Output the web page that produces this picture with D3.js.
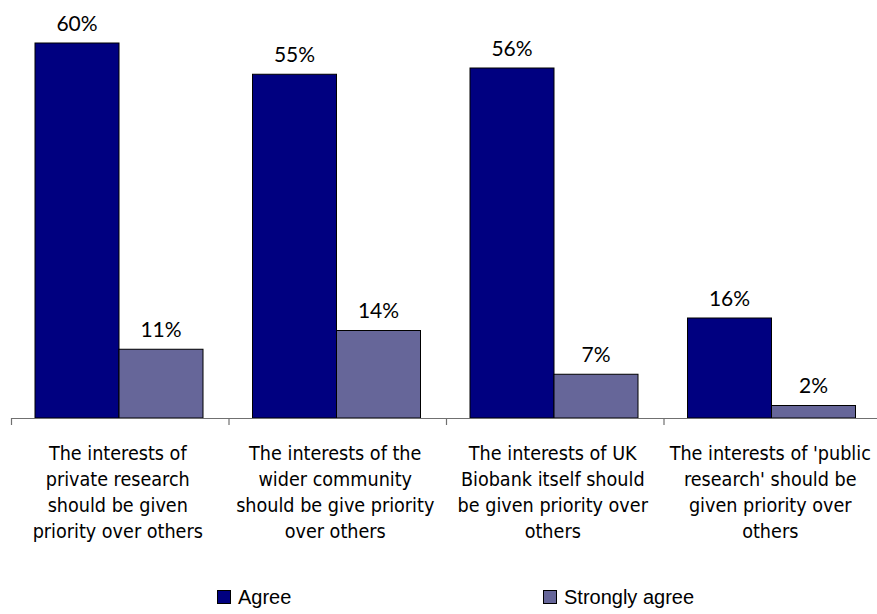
<!DOCTYPE html>
<html>
<head>
<meta charset="utf-8">
<script src="https://cdn.jsdelivr.net/npm/d3@7"></script>
<style>
  html, body { margin: 0; padding: 0; background: #fff; }
  svg { display: block; }
  .cat { font-family: "DejaVu Sans Condensed", "DejaVu Sans", sans-serif; font-stretch: condensed; font-size: 19.6px; fill: #000; }
  .val { font-family: Lato, "Open Sans", sans-serif; font-size: 21px; fill: #000; }
  .leg { font-family: "Liberation Sans", Arial, sans-serif; font-size: 20px; fill: #000; }
</style>
</head>
<body>
<svg id="chart" width="877" height="614"></svg>
<script>
// Category labels (line breaks as drawn under the axis)
const categories = [
  "The interests of\nprivate research\nshould be given\npriority over others",
  "The interests of the\nwider community\nshould be give priority\nover others",
  "The interests of UK\nBiobank itself should\nbe given priority over\nothers",
  "The interests of 'public\nresearch' should be\ngiven priority over\nothers"
];
const seriesNames = ["Agree", "Strongly agree"];
const agreeValues = [60, 55, 56, 16];
const stronglyAgreeValues = [11, 14, 7, 2];
const seriesColors = ["#000080", "#666699"];

const seriesValues = [agreeValues, stronglyAgreeValues];
const rows = categories.map((c, i) => ({
  category: c,
  values: seriesNames.map((s, j) => ({ series: s, value: seriesValues[j][i], color: seriesColors[j] }))
}));

const svg = d3.select("#chart");
const baseline = 418;

const x = d3.scaleBand().domain(categories).range([11, 881]).paddingInner(0).paddingOuter(0);
const xs = d3.scaleBand().domain(seriesNames).range([24, 192]).padding(0);
const y = d3.scaleLinear().domain([0, 60]).range([baseline, 43]);

// Bars
const groups = svg.append("g").selectAll("g")
  .data(rows).join("g")
  .attr("transform", d => `translate(${x(d.category)},0)`);

groups.selectAll("rect")
  .data(d => d.values).join("rect")
  .attr("x", d => xs(d.series))
  .attr("y", d => y(d.value))
  .attr("width", xs.bandwidth())
  .attr("height", d => baseline - y(d.value))
  .attr("fill", d => d.color)
  .attr("stroke", "#000")
  .attr("stroke-width", 1);

// Value labels
groups.selectAll("text.val")
  .data(d => d.values).join("text")
  .attr("class", "val")
  .attr("x", d => xs(d.series) + xs.bandwidth() / 2)
  .attr("y", d => y(d.value) - 12.5)
  .attr("text-anchor", "middle")
  .text(d => d.value + "%");

// Category axis: baseline with ticks at the category boundaries
const axis = svg.append("g").attr("stroke", "#707070").attr("stroke-width", 1.2).attr("fill", "none");
axis.append("line")
  .attr("x1", x.range()[0]).attr("x2", 877)
  .attr("y1", baseline + 0.5).attr("y2", baseline + 0.5);
const boundaries = categories.map(c => x(c));
axis.selectAll("line.tick")
  .data(boundaries).join("line")
  .attr("class", "tick")
  .attr("x1", d => d + 0.5).attr("x2", d => d + 0.5)
  .attr("y1", baseline).attr("y2", baseline + 7);

// Category labels, one tspan per line
const cat = svg.append("g").selectAll("text")
  .data(categories).join("text")
  .attr("class", "cat")
  .attr("text-anchor", "middle")
  .attr("x", d => x(d) + x.bandwidth() / 2 - 2)
  .attr("y", 460);
cat.selectAll("tspan")
  .data(d => d.split("\n").map(line => ({ line, cx: x(d) + x.bandwidth() / 2 - 2 })))
  .join("tspan")
  .attr("x", d => d.cx)
  .attr("dy", (d, i) => i === 0 ? 0 : 26)
  .text(d => d.line);

// Legend
const legendX = d3.scalePoint().domain(seriesNames).range([217, 543]);
const leg = svg.append("g").selectAll("g")
  .data(seriesNames).join("g")
  .attr("transform", d => `translate(${legendX(d)},590)`);
leg.append("rect")
  .attr("x", 0.5).attr("y", 0.5)
  .attr("width", 13).attr("height", 13)
  .attr("fill", (d, i) => seriesColors[i])
  .attr("stroke", "#000");
leg.append("text")
  .attr("class", "leg")
  .attr("x", 21)
  .attr("y", 14)
  .text(d => d);
</script>
</body>
</html>
